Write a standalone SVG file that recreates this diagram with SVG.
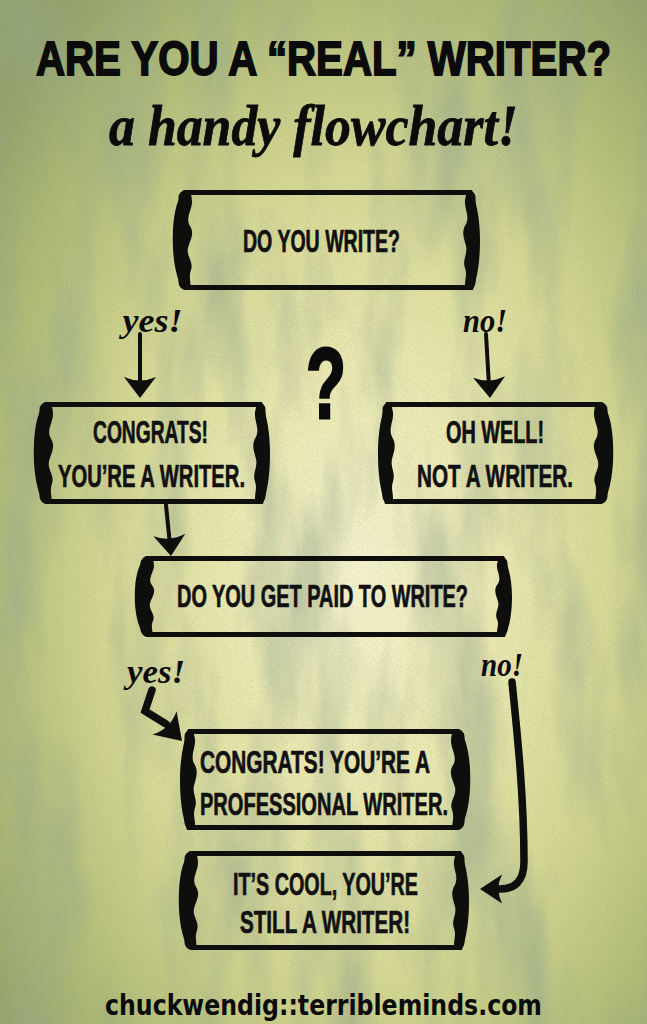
<svg xmlns="http://www.w3.org/2000/svg" width="647" height="1024" viewBox="0 0 647 1024">
<defs>
  <radialGradient id="bg" cx="0.56" cy="0.56" r="0.72">
    <stop offset="0" stop-color="#f6f3cf"/>
    <stop offset="0.28" stop-color="#ece9b2"/>
    <stop offset="0.55" stop-color="#d6d893"/>
    <stop offset="0.8" stop-color="#b1bc76"/>
    <stop offset="1" stop-color="#91a16a"/>
  </radialGradient>
  <filter id="mottle" x="0" y="0" width="647" height="1024" filterUnits="userSpaceOnUse">
    <feTurbulence type="fractalNoise" baseFrequency="0.016 0.004" numOctaves="4" seed="7"/>
    <feColorMatrix type="matrix" values="0 0 0 0 0.32  0 0 0 0 0.40  0 0 0 0 0.26  2.8 0 0 0 -1.2"/>
  </filter>
  <filter id="grain" x="0" y="0" width="647" height="1024" filterUnits="userSpaceOnUse">
    <feTurbulence type="fractalNoise" baseFrequency="0.8" numOctaves="2" seed="3"/>
    <feColorMatrix type="matrix" values="0 0 0 0 0.28  0 0 0 0 0.32  0 0 0 0 0.18  1.8 0 0 0 -0.75"/>
  </filter>
  <path id="sideL" d="M 12 0 C 6 8, 2 20, 1 40 C 0 60, 2 80, 8 94 C 10 98, 12 100, 14 100 L 18 100 C 20 94, 16 88, 19 80 C 22 72, 14 66, 16 58 C 18 50, 23 44, 18 36 C 13 28, 20 20, 20 12 C 20 6, 18 2, 18 0 Z"/>
  <path id="sideR" d="M 10 0 C 5 15, 2 30, 2 50 C 2 70, 4 85, 9 100 L 16 100 C 19 92, 14 86, 17 78 C 20 70, 14 64, 16 56 C 18 48, 21 42, 16 34 C 12 26, 18 18, 17 10 C 16 5, 15 2, 16 0 Z"/>
  <path id="head" d="M 0 0 L -16 -21 Q 0 -14 16 -21 Z"/>
  <style>
    .frame { fill: none; stroke: #0e0e0c; stroke-width: 5; }
    .side { fill: #0e0e0c; }
    .box { font-family: "Liberation Sans Narrow", "Liberation Sans", Arial, sans-serif; font-weight: 700; font-size: 31px; fill: #111; stroke: #111; stroke-width: 0.7; text-anchor: middle; }
    .title { font-family: "Liberation Sans Narrow", "Liberation Sans", Arial, sans-serif; font-weight: 700; font-size: 49px; fill: #0b0b0b; stroke: #0b0b0b; stroke-width: 1.8; text-anchor: middle; }
    .script { font-family: "Liberation Serif", "DejaVu Serif", serif; font-style: italic; font-weight: 700; fill: #0b0b0b; text-anchor: middle; }
    .foot { font-family: "DejaVu Sans", "Liberation Sans", sans-serif; font-weight: 700; font-size: 29px; fill: #0b0b0b; text-anchor: middle; }
    .ln { fill: none; stroke: #0e0e0c; stroke-width: 4; stroke-linecap: round; }
    .lnb { fill: none; stroke: #0e0e0c; stroke-width: 7.5; stroke-linecap: round; stroke-linejoin: miter; }
    .hd { fill: #0e0e0c; }
  </style>
</defs>

<g id="background">
  <rect x="0" y="0" width="647" height="1024" fill="url(#bg)"/>
  <rect x="0" y="0" width="647" height="1024" filter="url(#mottle)" opacity="0.55"/>
  <rect x="0" y="0" width="647" height="1024" filter="url(#grain)" opacity="0.3"/>
</g>

<g id="title">
  <text class="title" x="323.5" y="75" textLength="575" lengthAdjust="spacingAndGlyphs">ARE YOU A “REAL” WRITER?</text>
  <text class="script" x="313.5" y="145" font-size="58" stroke="#0b0b0b" stroke-width="0.8" textLength="409" lengthAdjust="spacingAndGlyphs">a handy flowchart!</text>
</g>

<g id="n1">
  <rect class="frame" x="181" y="192.5" width="292" height="95" rx="5"/>
  <use href="#sideL" class="side" transform="translate(172,190)"/>
  <use href="#sideR" class="side" transform="translate(482,190) scale(-1,1)"/>
  <text class="box" x="321.5" y="252" textLength="157" lengthAdjust="spacingAndGlyphs">DO YOU WRITE?</text>
</g>

<g id="n2">
  <rect class="frame" x="42" y="404.5" width="221" height="97" rx="5"/>
  <use href="#sideL" class="side" transform="translate(33,402) scale(1,1.02)"/>
  <use href="#sideR" class="side" transform="translate(272,402) scale(-1,1.02)"/>
  <text class="box" x="150.5" y="443" textLength="115" lengthAdjust="spacingAndGlyphs">CONGRATS!</text>
  <text class="box" x="151.5" y="487" textLength="187" lengthAdjust="spacingAndGlyphs">YOU’RE A WRITER.</text>
</g>

<g id="n3">
  <rect class="frame" x="385" y="404.5" width="220" height="97" rx="5"/>
  <use href="#sideR" class="side" transform="translate(376,402) scale(1,1.02)"/>
  <use href="#sideL" class="side" transform="translate(614,402) scale(-1,1.02)"/>
  <text class="box" x="495" y="443" textLength="98" lengthAdjust="spacingAndGlyphs">OH WELL!</text>
  <text class="box" x="495" y="487" textLength="156" lengthAdjust="spacingAndGlyphs">NOT A WRITER.</text>
</g>

<g id="n4">
  <rect class="frame" x="143" y="558.5" width="362" height="76" rx="5"/>
  <use href="#sideL" class="side" transform="translate(134,556) scale(1,0.81)"/>
  <use href="#sideR" class="side" transform="translate(514,556) scale(-1,0.81)"/>
  <text class="box" x="322.5" y="607" textLength="291" lengthAdjust="spacingAndGlyphs">DO YOU GET PAID TO WRITE?</text>
</g>

<g id="n5">
  <rect class="frame" x="187" y="731.5" width="275" height="96" rx="5"/>
  <use href="#sideR" class="side" transform="translate(178,729) scale(1,1.01)"/>
  <use href="#sideL" class="side" transform="translate(471,729) scale(-1,1.01)"/>
  <text class="box" x="315" y="773" textLength="230" lengthAdjust="spacingAndGlyphs">CONGRATS! YOU’RE A</text>
  <text class="box" x="324" y="815" textLength="248" lengthAdjust="spacingAndGlyphs">PROFESSIONAL WRITER.</text>
</g>

<g id="n6">
  <rect class="frame" x="187" y="853.5" width="275" height="94" rx="5"/>
  <use href="#sideL" class="side" transform="translate(178,851) scale(1,0.99)"/>
  <use href="#sideR" class="side" transform="translate(471,851) scale(-1,0.99)"/>
  <text class="box" x="325.5" y="895" textLength="185" lengthAdjust="spacingAndGlyphs">IT’S COOL, YOU’RE</text>
  <text class="box" x="325" y="933" textLength="170" lengthAdjust="spacingAndGlyphs">STILL A WRITER!</text>
</g>

<g id="question">
  <text x="326" y="418" font-family="Liberation Sans, Arial, sans-serif" font-weight="700" font-size="100" fill="#0b0b0b" stroke="#0b0b0b" stroke-width="3" text-anchor="middle" textLength="40" lengthAdjust="spacingAndGlyphs">?</text>
</g>

<g id="connectors">
  <path class="ln" d="M140 334 L140 386"/>
  <use href="#head" class="hd" transform="translate(140,398)"/>
  <text class="script" x="152.5" y="332" font-size="34" textLength="60" lengthAdjust="spacingAndGlyphs">yes!</text>

  <path class="ln" d="M486 334 L489 386"/>
  <use href="#head" class="hd" transform="translate(490,398) rotate(-2.6)"/>
  <text class="script" x="485" y="332" font-size="34" textLength="44" lengthAdjust="spacingAndGlyphs">no!</text>

  <path class="ln" d="M166 505 L170 545"/>
  <use href="#head" class="hd" transform="translate(171,556) rotate(-4.6)"/>

  <path class="lnb" d="M152 690 L145 711 L166 724"/>
  <use href="#head" class="hd" transform="translate(182,741) rotate(-44) scale(1.05,1.2)"/>
  <text class="script" x="156" y="683" font-size="34" textLength="58" lengthAdjust="spacingAndGlyphs">yes!</text>

  <path class="lnb" d="M512 682 C 518 740, 524 800, 524 862 C 524 882, 514 889, 500 889"/>
  <use href="#head" class="hd" transform="translate(480,889) rotate(90) scale(0.9,1.05)"/>
  <text class="script" x="502" y="676" font-size="34" textLength="42" lengthAdjust="spacingAndGlyphs">no!</text>
</g>

<g id="footer">
  <text class="foot" x="323.5" y="1015" textLength="437" lengthAdjust="spacingAndGlyphs">chuckwendig::terribleminds.com</text>
</g>
</svg>
